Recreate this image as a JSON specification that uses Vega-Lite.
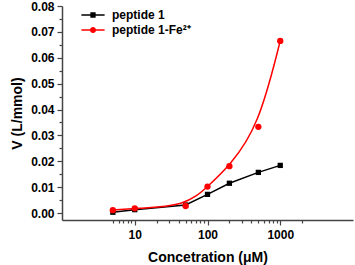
{
  "$schema": "https://vega.github.io/schema/vega-lite/v6.json",
  "width": 291,
  "height": 214,
  "autosize": {"type": "none"},
  "padding": {"left": 62, "top": 6, "right": 2, "bottom": 45},
  "config": {
    "view": {"stroke": null},
    "font": "Liberation Sans",
    "axis": {
      "grid": false,
      "domainColor": "#444",
      "domainWidth": 1.5,
      "tickColor": "#444",
      "tickWidth": 1.2,
      "tickSize": 5,
      "labelFont": "Liberation Sans",
      "labelFontWeight": "bold",
      "labelFontSize": 12,
      "labelColor": "#000",
      "labelPadding": 3,
      "titleFont": "Liberation Sans",
      "titleFontWeight": "bold",
      "titleFontSize": 14,
      "titleColor": "#000"
    }
  },
  "data": {
    "values": [
      {"series": "peptide 1", "conc": 5, "v": 0.0003},
      {"series": "peptide 1", "conc": 10, "v": 0.0013},
      {"series": "peptide 1", "conc": 50, "v": 0.0031},
      {"series": "peptide 1", "conc": 100, "v": 0.0072},
      {"series": "peptide 1", "conc": 200, "v": 0.0115},
      {"series": "peptide 1", "conc": 500, "v": 0.0157},
      {"series": "peptide 1", "conc": 1000, "v": 0.0184},
      {"series": "peptide 1-Fe²⁺", "conc": 5, "v": 0.0011},
      {"series": "peptide 1-Fe²⁺", "conc": 10, "v": 0.0018},
      {"series": "peptide 1-Fe²⁺", "conc": 50, "v": 0.0027},
      {"series": "peptide 1-Fe²⁺", "conc": 100, "v": 0.0102},
      {"series": "peptide 1-Fe²⁺", "conc": 200, "v": 0.0181},
      {"series": "peptide 1-Fe²⁺", "conc": 500, "v": 0.0333},
      {"series": "peptide 1-Fe²⁺", "conc": 1000, "v": 0.0665}
    ]
  },
  "resolve": {"axis": {"x": "independent", "y": "independent"}},
  "layer": [
    {
      "mark": {"type": "line", "color": "#000", "strokeWidth": 1.5},
      "transform": [{"filter": "datum.series === 'peptide 1'"}],
      "encoding": {
        "x": {"field": "conc", "type": "quantitative", "scale": {"type": "log", "domain": [4, 2000]},
          "axis": {"orient": "bottom", "values": [10, 100, 1000], "format": "d", "labelPadding": 4, "title": "Concetration (μM)", "titlePadding": 10}},
        "y": {"field": "v", "type": "quantitative", "scale": {"domain": [-0.0027, 0.08], "nice": false, "zero": false},
          "axis": {"orient": "left", "values": [0, 0.01, 0.02, 0.03, 0.04, 0.05, 0.06, 0.07, 0.08], "format": ".2f", "title": "V (L/mmol)", "titlePadding": 6}}
      }
    },
    {
      "mark": {"type": "point", "shape": "square", "filled": true, "opacity": 1, "color": "#000", "size": 28, "strokeWidth": 0},
      "transform": [{"filter": "datum.series === 'peptide 1'"}],
      "encoding": {
        "x": {"field": "conc", "type": "quantitative", "axis": null},
        "y": {"field": "v", "type": "quantitative", "axis": null}
      }
    },
    {
      "mark": {"type": "line", "color": "#ff0000", "strokeWidth": 1.5, "interpolate": "basis"},
      "transform": [{"filter": "datum.series !== 'peptide 1'"}],
      "encoding": {
        "x": {"field": "conc", "type": "quantitative", "axis": null},
        "y": {"field": "v", "type": "quantitative", "axis": null}
      }
    },
    {
      "mark": {"type": "point", "shape": "circle", "filled": true, "opacity": 1, "color": "#ff0000", "size": 40, "strokeWidth": 0},
      "transform": [{"filter": "datum.series !== 'peptide 1'"}],
      "encoding": {
        "x": {"field": "conc", "type": "quantitative", "axis": null},
        "y": {"field": "v", "type": "quantitative", "axis": null}
      }
    },
    {
      "mark": {"type": "point", "filled": true, "opacity": 1, "strokeWidth": 0},
      "transform": [{"filter": "false"}],
      "encoding": {
        "x": {"field": "conc", "type": "quantitative", "axis": null},
        "y": {"field": "v", "type": "quantitative", "axis": null},
        "color": {"field": "series", "type": "nominal", "scale": {"domain": ["peptide 1", "peptide 1-Fe²⁺"], "range": ["#000000", "#ff0000"]},
          "legend": {
            "title": null, "orient": "none", "legendX": 23, "legendY": 1, "padding": 0,
            "symbolSize": 256, "symbolStrokeWidth": 0, "symbolOpacity": 1, "rowPadding": 1, "labelOffset": 11,
            "labelFont": "Liberation Sans", "labelFontWeight": "bold", "labelFontSize": 12, "labelColor": "#000"
          }},
        "shape": {"field": "series", "type": "nominal", "scale": {"domain": ["peptide 1", "peptide 1-Fe²⁺"], "range": ["M-1.45,-0.1H1.45V0.1H-1.45Z M-0.33,-0.33H0.33V0.33H-0.33Z", "M-1.45,-0.1H1.45V0.1H-1.45Z M0.38,0A0.38,0.38 0 1,1 -0.38,0A0.38,0.38 0 1,1 0.38,0Z"]}}
      }
    },
    {
      "mark": {"type": "point", "opacity": 0},
      "encoding": {
        "x": {"field": "conc", "type": "quantitative",
          "axis": {"orient": "bottom", "values": [5, 6, 7, 8, 9, 20, 30, 40, 50, 60, 70, 80, 90, 200, 300, 400, 500, 600, 700, 800, 900, 2000], "labels": false, "domain": false, "tickSize": 3, "title": null}},
        "y": {"field": "v", "type": "quantitative",
          "axis": {"orient": "left", "values": [0.005, 0.015, 0.025, 0.035, 0.045, 0.055, 0.065, 0.075], "labels": false, "domain": false, "tickSize": 3, "title": null}}
      }
    }
  ]
}
